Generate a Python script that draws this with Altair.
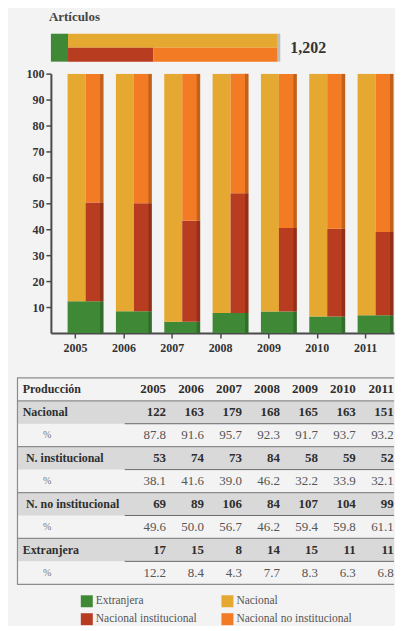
import altair as alt
import pandas as pd

# ---------------- data ----------------
years = [2005, 2006, 2007, 2008, 2009, 2010, 2011]
nacional = [122, 163, 179, 168, 165, 163, 151]
institucional = [53, 74, 73, 84, 58, 59, 52]
no_institucional = [69, 89, 106, 84, 107, 104, 99]
extranjera = [17, 15, 8, 14, 15, 11, 11]
pct_nacional = [87.8, 91.6, 95.7, 92.3, 91.7, 93.7, 93.2]
pct_institucional = [38.1, 41.6, 39.0, 46.2, 32.2, 33.9, 32.1]
pct_no_institucional = [49.6, 50.0, 56.7, 46.2, 59.4, 59.8, 61.1]
pct_extranjera = [12.2, 8.4, 4.3, 7.7, 8.3, 6.3, 6.8]

series = ["Extranjera", "Nacional", "Nacional institucional", "Nacional no institucional"]
colors = ["#3f8936", "#e5a831", "#b83d20", "#f27b23"]
table_labels = ["Producción", "Nacional", "%", "N. institucional", "%",
                "N. no institucional", "%", "Extranjera", "%"]
y_ticks = [10, 20, 30, 40, 50, 60, 70, 80, 90, 100]

SERIF = "Liberation Serif"
W = 344  # plot width shared by the bar chart and the table
color_scale = alt.Scale(domain=series, range=colors)

# ---------------- panel A: total articles bar ----------------
ext_total = sum(extranjera)
inst_total = sum(institucional)
noinst_total = sum(no_institucional)
nac_total = sum(nacional)
total = ext_total + nac_total

top_rows = pd.DataFrame({
    "serie": ["Nacional", "Nacional institucional", "Nacional no institucional"],
    "fila": ["arriba", "abajo", "abajo"],
    "x0": [ext_total, ext_total, ext_total + inst_total],
    "x1": [ext_total + nac_total, ext_total + inst_total, ext_total + inst_total + noinst_total],
})
top_green = pd.DataFrame({"serie": ["Extranjera"], "x0": [0], "x1": [ext_total]})
top_total = pd.DataFrame({"total": [total], "label": [f"{total:,}"]})

xA = alt.Scale(domain=[0, total], nice=False, zero=True)

a_rows = alt.Chart(top_rows).mark_rect().encode(
    x=alt.X("x0:Q", scale=xA, axis=None), x2="x1:Q",
    y=alt.Y("fila:N", scale=alt.Scale(domain=["arriba", "abajo"], paddingInner=0, paddingOuter=0),
            axis=None),
    color=alt.Color("serie:N", scale=color_scale, legend=None),
)
a_green = alt.Chart(top_green).mark_rect().encode(
    x=alt.X("x0:Q", scale=xA, axis=None), x2="x1:Q",
    color=alt.Color("serie:N", scale=color_scale, legend=None),
)
a_edge = alt.Chart(top_total).mark_rect(x2Offset=3, color="black", opacity=0.22).encode(
    x=alt.X("total:Q", scale=xA, axis=None), x2="total:Q",
)
a_text = alt.Chart(top_total).mark_text(
    align="left", baseline="middle", dx=13, font=SERIF, fontSize=16, fontWeight="bold", color="#333333"
).encode(x=alt.X("total:Q", scale=xA, axis=None), text="label:N")

panelA = alt.layer(a_rows, a_green, a_edge, a_text).properties(
    width=227, height=28,
    title=alt.TitleParams("Artículos", anchor="start", frame="group", font=SERIF, fontSize=13,
                          fontWeight="bold", color="#454545", offset=10, dx=-2),
)

# ---------------- panel B: yearly bars ----------------
ystr = [str(y) for y in years]
green_df = pd.DataFrame({"year": ystr, "y0": [0] * len(years), "y1": pct_extranjera,
                         "serie": ["Extranjera"] * len(years)})
halves = []
for i, yr in enumerate(ystr):
    e = pct_extranjera[i]
    halves.append({"year": yr, "half": "izq", "serie": "Nacional",
                   "y0": e, "y1": round(e + pct_nacional[i], 1)})
    halves.append({"year": yr, "half": "der", "serie": "Nacional institucional",
                   "y0": e, "y1": round(e + pct_institucional[i], 1)})
    halves.append({"year": yr, "half": "der", "serie": "Nacional no institucional",
                   "y0": round(e + pct_institucional[i], 1),
                   "y1": round(e + pct_institucional[i] + pct_no_institucional[i], 1)})
halves_df = pd.DataFrame(halves)
edge_df = pd.DataFrame({"year": ystr, "y0": [0] * len(years),
                        "y1": [round(pct_extranjera[i] + pct_institucional[i] + pct_no_institucional[i], 1)
                               for i in range(len(years))]})

xB_axis = alt.Axis(title=None, labelAngle=0, domainColor="#4a4a4a", domainWidth=2,
                   tickColor="#4a4a4a", tickWidth=1.5, tickSize=5, labelPadding=5,
                   labelFont=SERIF, labelFontSize=12, labelFontWeight="bold", labelColor="#333333",
                   tickOffset=-10.5, grid=False)
yB_axis = alt.Axis(title=None, values=y_ticks, grid=False, domainColor="#4a4a4a", domainWidth=2,
                   tickColor="#4a4a4a", tickWidth=1.5, tickSize=5, labelPadding=2,
                   labelFont=SERIF, labelFontSize=12, labelFontWeight="bold", labelColor="#333333",
                   minExtent=34, maxExtent=34)
xB = alt.Scale(paddingInner=0.2571, paddingOuter=0.1779, align=0.9716)
yB = alt.Scale(domain=[0, 100], nice=False, zero=True)

b_green = alt.Chart(green_df).mark_bar(clip=True).encode(
    x=alt.X("year:N", scale=xB, axis=xB_axis),
    y=alt.Y("y0:Q", scale=yB, axis=yB_axis), y2="y1:Q",
    color=alt.Color("serie:N", scale=color_scale, legend=None),
)
b_halves = alt.Chart(halves_df).mark_bar(clip=True).encode(
    x=alt.X("year:N", scale=xB, axis=xB_axis),
    xOffset=alt.XOffset("half:N", scale=alt.Scale(domain=["izq", "der"], paddingInner=0, paddingOuter=0)),
    y=alt.Y("y0:Q", scale=yB, axis=yB_axis), y2="y1:Q",
    color=alt.Color("serie:N", scale=color_scale, legend=None),
)
b_edge = alt.Chart(edge_df).mark_bar(width=3.5, xOffset=16.25, color="black", opacity=0.2, clip=True).encode(
    x=alt.X("year:N", scale=xB, axis=xB_axis),
    y=alt.Y("y0:Q", scale=yB, axis=yB_axis), y2="y1:Q",
)
panelB = alt.layer(b_green, b_halves, b_edge).properties(width=W, height=260)

# ---------------- panel C: table ----------------
count_rows = {1: nacional, 3: institucional, 5: no_institucional, 7: extranjera}
pct_rows = {2: pct_nacional, 4: pct_institucional, 6: pct_no_institucional, 8: pct_extranjera}
cells = []
for j, yr in enumerate(years):
    cells.append({"r": 0.5, "yr": yr, "t": str(yr), "kind": "bold"})
    for r, vals in count_rows.items():
        cells.append({"r": r + 0.5, "yr": yr, "t": str(vals[j]), "kind": "bold"})
    for r, vals in pct_rows.items():
        cells.append({"r": r + 0.5, "yr": yr, "t": f"{vals[j]:.1f}", "kind": "pct"})
cells_df = pd.DataFrame(cells)

lab_df = pd.DataFrame({"r": [i + 0.5 for i in range(len(table_labels))], "label": table_labels})
main_lab = lab_df[lab_df["label"].isin(["Producción", "Nacional", "Extranjera"])]
n_lab = lab_df[lab_df["label"].str.startswith("N.")]
pct_lab = lab_df[lab_df["label"] == "%"]

bg_df = pd.DataFrame({"r0": [1, 3, 5, 7], "r1": [2, 4, 6, 8]})
full_rules = pd.DataFrame({"r": [0, 1, 3, 5, 7, 9]})
part_rules = pd.DataFrame({"r": [2, 4, 6, 8]})

xC = alt.Scale(domain=[2001.9645, 2011.0053], nice=False, zero=False)
yC = alt.Scale(domain=[0, 9], reverse=True, nice=False, zero=False)
LEFT = -34  # table's left border sits to the left of the shared plot origin

c_bg = alt.Chart(bg_df).mark_rect(color="#d9d9d9").encode(
    y=alt.Y("r0:Q", scale=yC, axis=None), y2="r1:Q", x=alt.value(LEFT), x2=alt.value(W))
c_full = alt.Chart(full_rules).mark_rule(color="#8c8c8c", strokeWidth=1.2).encode(
    y=alt.Y("r:Q", scale=yC, axis=None), x=alt.value(LEFT), x2=alt.value(W))
c_part = alt.Chart(part_rules).mark_rule(color="#6a6a6a", strokeWidth=1).encode(
    y=alt.Y("r:Q", scale=yC, axis=None), x=alt.value(74), x2=alt.value(W))
c_left = alt.Chart(full_rules.head(1)).mark_rule(color="#8c8c8c", strokeWidth=1.2).encode(
    x=alt.value(LEFT + 0.5))
c_bold = alt.Chart(cells_df[cells_df["kind"] == "bold"]).mark_text(
    align="right", baseline="middle", font=SERIF, fontSize=13, fontWeight="bold",
    color="#2e2e2e"
).encode(x=alt.X("yr:Q", scale=xC, axis=None), y=alt.Y("r:Q", scale=yC, axis=None), text="t:N")
c_pct = alt.Chart(cells_df[cells_df["kind"] == "pct"]).mark_text(
    align="right", baseline="middle", font=SERIF, fontSize=13, color="#555555"
).encode(x=alt.X("yr:Q", scale=xC, axis=None), y=alt.Y("r:Q", scale=yC, axis=None), text="t:N")
c_main = alt.Chart(main_lab).mark_text(
    align="left", baseline="middle", font=SERIF, fontSize=12, fontWeight="bold", color="#2e2e2e"
).encode(x=alt.value(LEFT + 5.7), y=alt.Y("r:Q", scale=yC, axis=None), text="label:N")
c_n = alt.Chart(n_lab).mark_text(
    align="left", baseline="middle", font=SERIF, fontSize=12, fontWeight="bold", color="#2e2e2e"
).encode(x=alt.value(LEFT + 9), y=alt.Y("r:Q", scale=yC, axis=None), text="label:N")
c_p = alt.Chart(pct_lab).mark_text(
    align="left", baseline="middle", font=SERIF, fontSize=10, color="#777777"
).encode(x=alt.value(LEFT + 26), y=alt.Y("r:Q", scale=yC, axis=None), text="label:N")

panelC = alt.layer(c_bg, c_full, c_part, c_left, c_bold, c_pct, c_main, c_n, c_p).properties(
    width=W, height=207)

# ---------------- panel D: legend ----------------
leg_df = pd.DataFrame({"serie": series, "col": [0, 1, 0, 1], "fila": [0, 0, 1, 1]})
xD = alt.X("col:O", scale=alt.Scale(type="point", padding=0), axis=None)
yD = alt.Y("fila:O", scale=alt.Scale(type="point", padding=0), axis=None)
d_sq = alt.Chart(leg_df).mark_square(size=144, xOffset=36, opacity=1).encode(
    x=xD, y=yD, color=alt.Color("serie:N", scale=color_scale, legend=None))
d_tx = alt.Chart(leg_df).mark_text(
    align="left", baseline="middle", dx=45, font=SERIF, fontSize=11.5, color="#555555"
).encode(x=xD, y=yD, text="serie:N")
panelD = alt.layer(d_sq, d_tx).properties(width=141, height=18)

# ---------------- assemble ----------------
top = alt.vconcat(panelA, panelB, spacing=6)
mid = alt.vconcat(top, panelC, spacing=23)
chart = alt.vconcat(mid, panelD, spacing=10).properties(
    padding={"left": 8, "top": 2, "right": 0, "bottom": 0},
    background="#f3f3f3",
).configure_view(stroke=None)

chart.save("out.html", embed_options={"renderer": "svg", "actions": False})
